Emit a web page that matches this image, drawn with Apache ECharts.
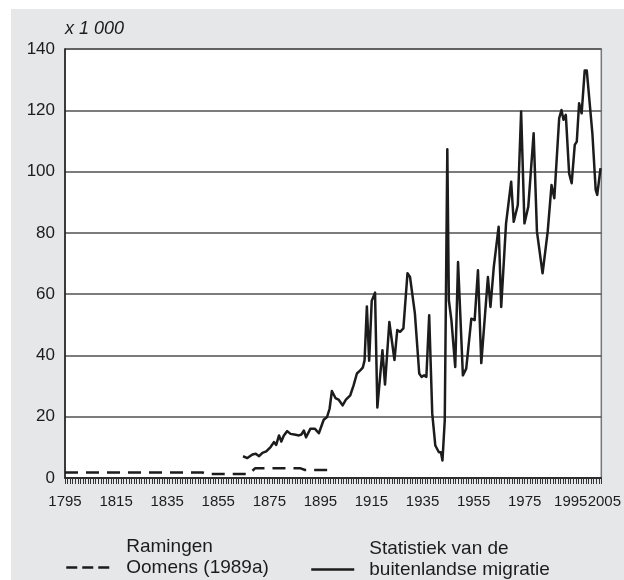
<!DOCTYPE html>
<html>
<head>
<meta charset="utf-8">
<script src="https://cdn.jsdelivr.net/npm/echarts@6/dist/echarts.min.js"></script>
<style>
	html, body { margin: 0; padding: 0; background: #fff; }
	.panel { position: absolute; left: 11px; top: 9px; width: 613px; height: 571px; background: #e6e7e9; }
	#chart { position: absolute; left: 0; top: 0; width: 624px; height: 580px; }
</style>
</head>
<body>
<div class="panel"></div>
<div id="chart"></div>
<script>
var ink = '#1c1c1c';
var font = 'Liberation Sans, Arial, sans-serif';

// x-as: jaartallen, y-as: aantallen x 1 000
var yearMin = 1795;
var yearMax = 2005;
var labelYears = [1795, 1815, 1835, 1855, 1875, 1895, 1915, 1935, 1955, 1975, 1995, 2005];

// Ramingen Oomens (1989a)
var oomensYears = [1795, 1848.8, 1850.5, 1867, 1869.5, 1887, 1889, 1898.2];
var oomensValues = [1.8, 1.8, 1.3, 1.3, 3.2, 3.2, 2.6, 2.6];

// Statistiek van de buitenlandse migratie
var statYears = [
	1864.7, 1866.4, 1868.4, 1869.7, 1871.0, 1872.3, 1873.8, 1875.5, 1876.8, 1877.7,
	1878.8, 1879.7, 1880.7, 1882.0, 1883.3, 1885.3, 1886.6, 1887.6, 1888.5, 1889.4,
	1891.1, 1892.8, 1894.4, 1896.3, 1897.6, 1898.6, 1899.5, 1900.9, 1902.1, 1902.8,
	1903.7, 1905.0, 1906.7, 1908.0, 1909.3, 1910.6, 1911.6, 1912.3, 1913.2, 1914.1,
	1915.1, 1916.4, 1917.3, 1919.3, 1920.3, 1922.0, 1924.0, 1925.1, 1926.2, 1927.5,
	1929.1, 1930.1, 1932.0, 1933.7, 1934.6, 1935.6, 1936.5, 1937.6, 1938.8, 1940.0,
	1941.4, 1942.2, 1942.8, 1943.7, 1944.7, 1945.3, 1946.3, 1947.8, 1948.9, 1950.8,
	1952.1, 1954.1, 1955.4, 1956.7, 1958.0, 1960.6, 1961.6, 1962.9, 1964.8, 1965.8,
	1967.7, 1969.7, 1970.7, 1972.3, 1973.6, 1974.9, 1976.4, 1978.5, 1979.8, 1982.0,
	1982.7, 1984.0, 1985.5, 1986.6, 1988.5, 1989.4, 1990.2, 1991.1, 1992.4, 1993.4,
	1994.6, 1995.4, 1996.3, 1997.3, 1998.5, 1999.3, 2001.5, 2002.8, 2003.4, 2004.7
];
var statValues = [
	7.1, 6.5, 7.7, 7.9, 7.1, 8.2, 8.7, 10.1, 11.7, 10.8,
	13.9, 11.9, 13.9, 15.3, 14.4, 14.1, 13.9, 14.2, 15.5, 13.3,
	16.1, 16.1, 14.6, 19.0, 19.9, 22.6, 28.4, 26.1, 25.6, 26.2,
	23.7, 25.6, 27.0, 30.2, 34.1, 35.1, 36.0, 38.4, 56.0, 38.3,
	57.8, 60.5, 23.0, 41.7, 30.5, 50.9, 38.5, 48.3, 47.7, 48.8,
	66.8, 65.6, 53.7, 34.1, 33.0, 33.5, 33.0, 53.1, 21.0, 10.6,
	8.4, 8.4, 5.7, 18.8, 107.3, 58.0, 51.5, 36.2, 70.5, 33.5,
	35.7, 52.0, 51.5, 67.8, 37.5, 65.6, 55.8, 68.9, 82.0, 55.8,
	83.1, 96.7, 83.6, 89.1, 119.6, 83.1, 88.5, 112.5, 80.4, 66.8,
	67.0, 80.4, 95.6, 91.3, 117.4, 120.1, 116.9, 118.5, 99.4, 96.2,
	108.7, 109.8, 122.3, 119.0, 133.0, 133.0, 112.5, 94.0, 92.4, 101.1
];

var oomensName = 'Ramingen Oomens (1989a)';
var statName = 'Statistiek van de buitenlandse migratie';

function pairs(xs, ys) {
	return xs.map(function(x, i) { return [x, ys[i]]; });
}

// two text lines above the icon line, a blank third line keeps the icon on line two
function legendLines(a, b) {
	return '{t|' + a + '}\n{t|' + b + '}\n{t| }';
}

function legendText(gap) {
	return {
		color: ink,
		fontFamily: font,
		fontSize: 19,
		lineHeight: 21,
		rich: {
			t: { color: ink, fontFamily: font, fontSize: 19, lineHeight: 21, padding: [0, 0, 0, gap] }
		}
	};
}

var chart = echarts.init(document.getElementById('chart'), null, { renderer: 'canvas' });
chart.setOption({
	animation: false,
	backgroundColor: 'transparent',
	grid: {
		left: 65,
		right: 20,
		top: 49,
		bottom: 102,
		show: true,
		backgroundColor: '#fff',
		borderColor: '#777',
		borderWidth: 1.5
	},
	legend: [
		{
			data: [oomensName],
			left: 65,
			top: 536,
			padding: 0,
			itemWidth: 43,
			itemHeight: 14,
			textStyle: legendText(12),
			itemStyle: { opacity: 0, borderWidth: 0 },
			lineStyle: { type: [11, 5], width: 2.5, color: ink },
			formatter: function() { return legendLines('Ramingen', 'Oomens (1989a)'); }
		},
		{
			data: [statName],
			left: 310,
			top: 538,
			padding: 0,
			itemWidth: 43,
			itemHeight: 14,
			textStyle: legendText(10),
			itemStyle: { opacity: 0, borderWidth: 0 },
			lineStyle: { width: 2.5, color: ink },
			formatter: function() { return legendLines('Statistiek van de', 'buitenlandse migratie'); }
		}
	],
	xAxis: {
		type: 'value',
		min: yearMin,
		max: yearMax,
		interval: 5,
		axisLine: { lineStyle: { color: ink, width: 1.5 } },
		axisTick: { length: 6, lineStyle: { color: '#333', width: 1 } },
		minorTick: { show: true, splitNumber: 5, length: 6, lineStyle: { color: '#333', width: 1 } },
		splitLine: { show: false },
		axisLabel: {
			margin: 16,
			color: ink,
			fontFamily: font,
			fontSize: 15,
			formatter: function(v) {
				if (labelYears.indexOf(v) < 0) return '';
				if (v === 1995) return '{l|' + v + '}';
				if (v === 2005) return '{r|' + v + '}';
				return String(v);
			},
			rich: {
				l: { fontFamily: font, fontSize: 15, color: ink, padding: [0, 10, 0, 0] },
				r: { fontFamily: font, fontSize: 15, color: ink, padding: [0, 0, 0, 6] }
			}
		}
	},
	yAxis: {
		type: 'value',
		min: 0,
		max: 140,
		interval: 20,
		name: 'x 1 000',
		nameLocation: 'end',
		nameGap: 11,
		nameTextStyle: {
			align: 'left',
			fontStyle: 'italic',
			fontFamily: font,
			fontSize: 18,
			color: ink
		},
		axisLine: { show: true, lineStyle: { color: ink, width: 1.5 } },
		axisTick: { show: false },
		splitLine: { lineStyle: { color: '#505050', width: 1.5 } },
		axisLabel: {
			margin: 10,
			color: ink,
			fontFamily: font,
			fontSize: 17
		}
	},
	series: [
		{
			name: oomensName,
			type: 'line',
			symbol: 'none',
			data: pairs(oomensYears, oomensValues),
			itemStyle: { color: ink },
			lineStyle: { color: ink, width: 2.5, type: [13, 8] },
			z: 3
		},
		{
			name: statName,
			type: 'line',
			symbol: 'none',
			data: pairs(statYears, statValues),
			itemStyle: { color: ink },
			lineStyle: { color: ink, width: 2.5, join: 'round' },
			z: 4
		}
	]
});
</script>
</body>
</html>
